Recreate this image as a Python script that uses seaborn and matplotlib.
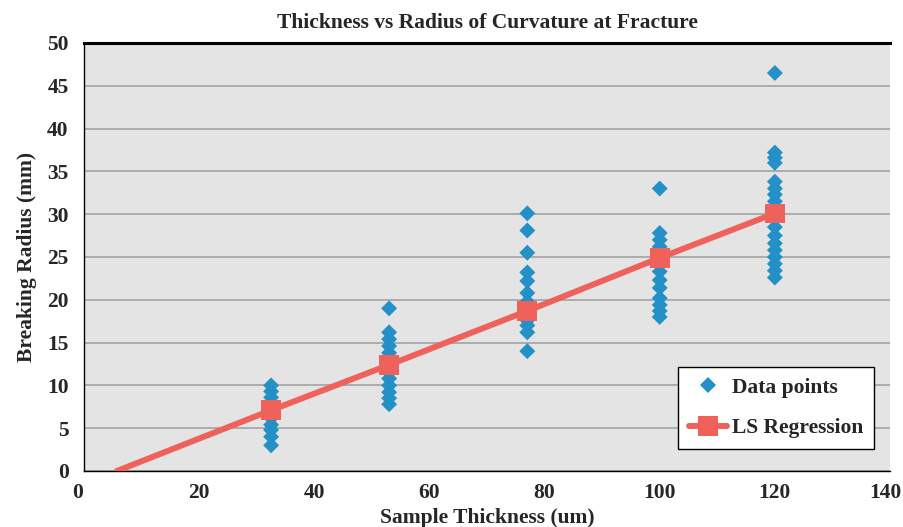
import matplotlib
matplotlib.use("Agg")
import matplotlib.pyplot as plt
from matplotlib.lines import Line2D
from matplotlib.transforms import ScaledTranslation
import seaborn as sns
import pandas as pd

# ---- data ----
thickness = [32.5, 53, 77, 100, 120]
radius_32 = [10, 9.3, 8.6, 7.8, 7.0, 6.2, 5.4, 4.8, 4.0, 3.0]
radius_53 = [19, 16.2, 15.4, 14.6, 13.8, 13.0, 12.2, 11.5, 10.8, 10.0, 9.2, 8.5, 7.8]
radius_77 = [30.1, 28.1, 25.5, 23.2, 22.2, 20.8, 19.8, 18.8, 17.6, 17.0, 16.2, 14.0]
radius_100 = [33, 27.8, 27.0, 26.2, 25.4, 24.6, 23.3, 22.3, 21.4, 20.2, 19.4, 18.7, 18.0]
radius_120 = [46.5, 37.2, 36.6, 36.0, 33.8, 33.0, 32.3, 31.5, 30.5, 29.5, 28.5,
              27.5, 26.6, 25.8, 25.0, 24.2, 23.4, 22.6]
reg_x = [5.7, 32.5, 53, 77, 100, 120]
reg_y = [0.0, 7.1, 12.4, 18.7, 24.9, 30.1]

x_ticks = [0, 20, 40, 60, 80, 100, 120, 140]
y_ticks = [0, 5, 10, 15, 20, 25, 30, 35, 40, 45, 50]

title = "Thickness vs Radius of Curvature at Fracture"
xlabel = "Sample Thickness (um)"
ylabel = "Breaking Radius (mm)"
legend_labels = ["Data points", "LS Regression"]

groups = [radius_32, radius_53, radius_77, radius_100, radius_120]
rows = []
for t, vals in zip(thickness, groups):
    for v in vals:
        rows.append({"thickness": t, "radius": v})
df = pd.DataFrame(rows)
reg_df = pd.DataFrame({"thickness": reg_x, "radius": reg_y})
sq_df = pd.DataFrame({"thickness": reg_x[1:], "radius": reg_y[1:]})

# ---- style ----
sns.set_style("white")
plt.rcParams["font.family"] = ["Liberation Serif", "DejaVu Serif"]
plt.rcParams["font.weight"] = "bold"

FS = 15.5
BLUE = "#2490c8"
RED = "#ef625b"
BG = "#e4e4e4"
GRID = "#a8a8a8"

fig = plt.figure(figsize=(9.04, 5.27), dpi=100)
ax = fig.add_axes([84 / 904, 1 - 471 / 527, 806 / 904, 428 / 527])
ax.set_facecolor(BG)

sns.scatterplot(data=df, x="thickness", y="radius", ax=ax, marker="D", s=66,
                color=BLUE, edgecolor="none", linewidth=0, zorder=3, legend=False)
sns.lineplot(data=reg_df, x="thickness", y="radius", ax=ax, color=RED,
             linewidth=4.3, zorder=4, legend=False, estimator=None, sort=False)
sns.scatterplot(data=sq_df, x="thickness", y="radius", ax=ax, marker="s", s=200,
                color=RED, edgecolor="none", linewidth=0, zorder=5, legend=False)

ax.set_xlim(0, 140)
ax.set_ylim(0, 50)
ax.set_xticks(x_ticks)
ax.set_yticks(y_ticks)
ax.tick_params(axis="both", length=0, labelsize=FS)
ax.tick_params(axis="y", pad=11)
ax.tick_params(axis="x", pad=9)
xlabels = ax.get_xticklabels()
for lab in xlabels + ax.get_yticklabels():
    lab.set_fontweight("bold")
# nudge the end x tick labels as in the reference
last = xlabels[-1]
last.set_transform(last.get_transform() + ScaledTranslation(-0.045, 0, fig.dpi_scale_trans))
first = xlabels[0]
first.set_transform(first.get_transform() + ScaledTranslation(-0.06, 0, fig.dpi_scale_trans))

ax.yaxis.grid(True, color=GRID, linewidth=1.3, zorder=1)
ax.xaxis.grid(False)
ax.set_axisbelow(True)

ax.spines["right"].set_visible(False)
ax.spines["top"].set_color("black")
ax.spines["top"].set_linewidth(2.2)
ax.spines["left"].set_color("black")
ax.spines["left"].set_linewidth(1.0)
ax.spines["bottom"].set_color("black")
ax.spines["bottom"].set_linewidth(1.0)

ax.set_title(title, fontsize=FS, fontweight="bold", pad=11)
ax.set_xlabel(xlabel, fontsize=FS, fontweight="bold", labelpad=3)
ax.set_ylabel(ylabel, fontsize=FS, fontweight="bold", labelpad=7)

handles = [
    Line2D([], [], linestyle="none", marker="D", markersize=7.8, color=BLUE,
           markeredgewidth=0),
    Line2D([], [], color=RED, linewidth=4.3, marker="s", markersize=14,
           markeredgewidth=0),
]
leg = ax.legend(handles, legend_labels, loc="lower right",
                bbox_to_anchor=(0.98, 0.051), borderaxespad=0, fancybox=False,
                framealpha=1, edgecolor="black", labelspacing=0.95,
                handlelength=1.8, handletextpad=0.2, borderpad=0.5,
                prop={"weight": "bold", "size": FS})
leg.get_frame().set_linewidth(1.0)

fig.savefig("out.png", dpi=100)
